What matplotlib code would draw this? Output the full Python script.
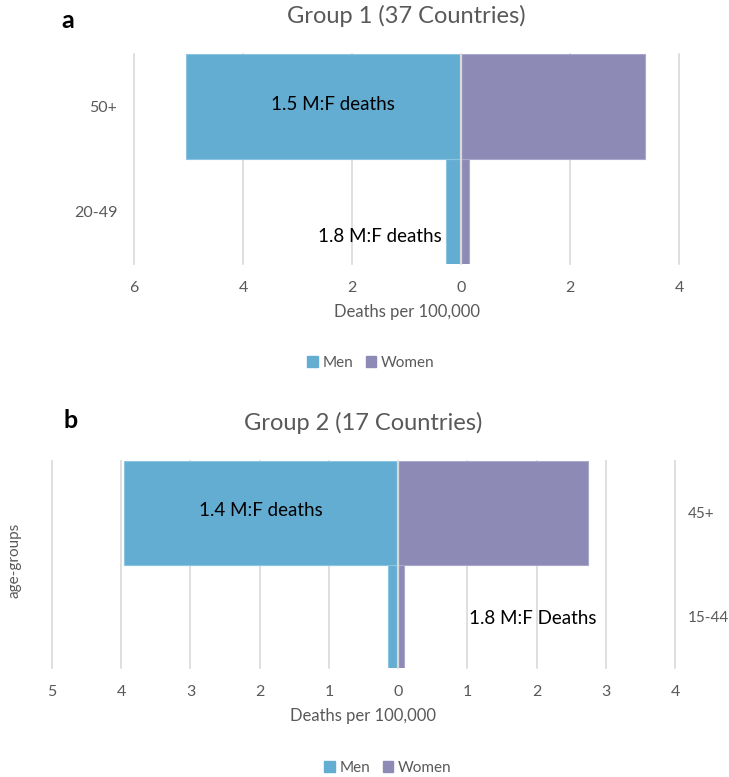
import matplotlib.pyplot as plt
from matplotlib.ticker import FuncFormatter, MultipleLocator
from matplotlib.patches import Patch

plt.rcParams['font.family'] = ['Lato', 'DejaVu Sans']

# panel a
ages_a = ['20-49', '50+']
men_a = [0.27, 5.05]
women_a = [0.15, 3.38]
notes_a = ['1.8 M:F deaths', '1.5 M:F deaths']

# panel b
ages_b = ['15-44', '45+']
men_b = [0.15, 3.96]
women_b = [0.08, 2.75]
notes_b = ['1.8 M:F Deaths', '1.4 M:F deaths']

MEN = '#63ADD3'
WOMEN = '#8D8BB6'
GRID = '#D9D9D9'
TXT = '#595959'

fig = plt.figure(figsize=(7.29, 7.77), dpi=100)
W, H = 729, 777


def add_ax(l, t, r, b):
    return fig.add_axes([l / W, 1 - b / H, (r - l) / W, (b - t) / H])


def pyramid(ax, ages, men, women, xlim, step):
    y = list(range(len(ages)))
    ax.barh(y, [-m for m in men], height=1.0, color=MEN, edgecolor='#8CC3E0',
            linewidth=0.8, zorder=3)
    ax.barh(y, women, height=1.0, color=WOMEN, edgecolor='#A9A7CB',
            linewidth=0.8, zorder=3)
    ax.axvline(0, color='#D9D9D9', lw=1.6, zorder=4)
    ax.set_xlim(*xlim)
    ax.set_ylim(-0.5, len(ages) - 0.5)
    ax.xaxis.set_major_locator(MultipleLocator(step))
    ax.xaxis.set_major_formatter(FuncFormatter(lambda v, p: '%d' % abs(round(v))))
    ax.grid(axis='x', color=GRID, lw=1.2, zorder=0)
    for g in ax.get_xgridlines():
        g.set_clip_on(False)
    ax.set_yticks(y)
    ax.set_yticklabels(ages)
    for s in ax.spines.values():
        s.set_visible(False)
    ax.tick_params(length=0, colors=TXT, labelsize=11.5, pad=12)
    ax.set_xlabel('Deaths per 100,000', color=TXT, fontsize=12, labelpad=7)


# ---- a ----
ax1 = add_ax(134, 54, 679, 264)
pyramid(ax1, ages_a, men_a, women_a, (-6, 4), 2)
ax1.set_title('Group 1 (37 Countries)', color=TXT, fontsize=17, pad=22)
ax1.text(-2.35, 1.02, notes_a[1], ha='center', va='center', fontsize=13.5)
ax1.text(-0.35, -0.24, notes_a[0], ha='right', va='center', fontsize=13.5)
fig.text(68 / W, 1 - 20 / H, 'a', fontsize=18, fontweight='bold', ha='center', va='center')
fig.legend(handles=[Patch(color=MEN, label='Men'), Patch(color=WOMEN, label='Women')],
           loc='center', bbox_to_anchor=(371 / W, 1 - 363 / H), ncol=2, frameon=False,
           fontsize=11, handlelength=0.7, handleheight=0.7, handletextpad=0.3,
           columnspacing=0.8, labelcolor=TXT)

# ---- b ----
ax2 = add_ax(52, 461, 675, 668)
pyramid(ax2, ages_b, men_b, women_b, (-5, 4), 1)
ax2.yaxis.tick_right()
ax2.tick_params(axis='y', pad=9, labelsize=11)
ax2.set_title('Group 2 (17 Countries)', color=TXT, fontsize=17, pad=22)
ax2.text(-1.98, 1.02, notes_b[1], ha='center', va='center', fontsize=13.5)
ax2.text(1.94, -0.02, notes_b[0], ha='center', va='center', fontsize=13.5)
fig.text(14 / W, 1 - 560 / H, 'age-groups', rotation=90, color=TXT, fontsize=11,
         ha='center', va='center')
fig.text(71 / W, 1 - 420 / H, 'b', fontsize=18, fontweight='bold', ha='center', va='center')
fig.legend(handles=[Patch(color=MEN, label='Men'), Patch(color=WOMEN, label='Women')],
           loc='center', bbox_to_anchor=(388 / W, 1 - 768 / H), ncol=2, frameon=False,
           fontsize=11, handlelength=0.7, handleheight=0.7, handletextpad=0.3,
           columnspacing=0.8, labelcolor=TXT)

fig.savefig('out.png', dpi=100)
